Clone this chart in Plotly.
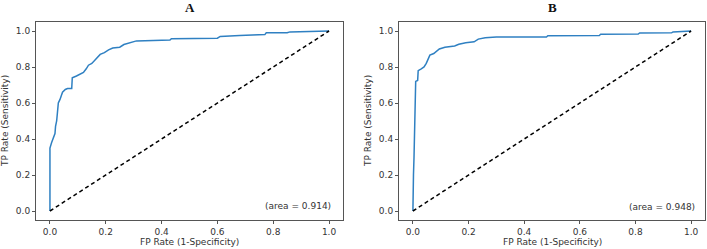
import plotly.graph_objects as go

# ---- data ----
fpr_a = [0, 0, 0.006, 0.012, 0.018, 0.02, 0.024, 0.027, 0.03, 0.036, 0.045, 0.055, 0.063, 0.078,
         0.08, 0.095, 0.11, 0.12, 0.13, 0.138, 0.15, 0.16, 0.17, 0.18, 0.195, 0.21, 0.225, 0.25,
         0.265, 0.29, 0.31, 0.43, 0.435, 0.6, 0.61, 0.68, 0.77, 0.775, 0.85, 0.86, 1.0]
tpr_a = [0, 0.35, 0.38, 0.40, 0.43, 0.47, 0.50, 0.55, 0.60, 0.62, 0.66, 0.675, 0.68, 0.68,
         0.74, 0.75, 0.76, 0.77, 0.79, 0.81, 0.82, 0.835, 0.85, 0.87, 0.88, 0.895, 0.905, 0.91,
         0.925, 0.935, 0.945, 0.95, 0.957, 0.96, 0.97, 0.975, 0.98, 0.99, 0.99, 0.995, 1.0]

fpr_b = [0, 0, 0.002, 0.002, 0.004, 0.006, 0.007, 0.01, 0.017, 0.019, 0.03, 0.04, 0.048, 0.055,
         0.061, 0.075, 0.085, 0.095, 0.115, 0.15, 0.165, 0.19, 0.22, 0.235, 0.26, 0.3, 0.48,
         0.485, 0.67, 0.675, 0.81, 0.815, 0.93, 0.935, 1.0]
tpr_b = [0, 0.15, 0.15, 0.2, 0.3, 0.5, 0.63, 0.72, 0.725, 0.78, 0.79, 0.80, 0.82, 0.845,
         0.866, 0.875, 0.89, 0.90, 0.91, 0.917, 0.926, 0.935, 0.94, 0.955, 0.962, 0.967, 0.967,
         0.974, 0.975, 0.982, 0.983, 0.989, 0.99, 0.995, 1.0]

chance = [0, 1]
titles = ["A", "B"]
area_labels = ["(area = 0.914)", "(area = 0.948)"]
x_title = "FP Rate (1-Specificity)"
y_title = "TP Rate (Sensitivity)"
tick_vals = [0, 0.2, 0.4, 0.6, 0.8, 1.0]
tick_text = ["0.0", "0.2", "0.4", "0.6", "0.8", "1.0"]

W, H = 707, 249
BLUE = "#2f80c2"
FRAME = "#555555"
TXT = "#333333"

fig = go.Figure()
fig.add_trace(go.Scatter(x=fpr_a, y=tpr_a, mode="lines", line=dict(color=BLUE, width=1.5),
                         xaxis="x", yaxis="y", showlegend=False))
fig.add_trace(go.Scatter(x=chance, y=chance, mode="lines",
                         line=dict(color="black", width=1.5, dash="4px,3px"),
                         xaxis="x", yaxis="y", showlegend=False))
fig.add_trace(go.Scatter(x=fpr_b, y=tpr_b, mode="lines", line=dict(color=BLUE, width=1.5),
                         xaxis="x2", yaxis="y2", showlegend=False))
fig.add_trace(go.Scatter(x=chance, y=chance, mode="lines",
                         line=dict(color="black", width=1.5, dash="4px,3px"),
                         xaxis="x2", yaxis="y2", showlegend=False))

def px(x):
    return x / W

def py(y):
    return 1 - y / H

axis_common = dict(
    range=[-0.05, 1.05], tickvals=tick_vals, ticktext=tick_text, ticks="outside",
    ticklen=3, tickwidth=1, tickcolor=FRAME, showline=True, linecolor=FRAME, linewidth=1,
    mirror=True, showgrid=False, zeroline=False, tickfont=dict(size=9, color=TXT),
)
ydom = [py(220), py(22)]
fig.update_layout(
    width=W, height=H, margin=dict(l=0, r=0, t=0, b=0),
    paper_bgcolor="white", plot_bgcolor="white",
    font=dict(family="DejaVu Sans", size=9, color=TXT),
    xaxis=dict(domain=[px(36), px(343)], anchor="y", **axis_common),
    yaxis=dict(domain=ydom, anchor="x", **axis_common),
    xaxis2=dict(domain=[px(399), px(705)], anchor="y2", **axis_common),
    yaxis2=dict(domain=ydom, anchor="x2", **axis_common),
)

annos = []
centers = [(189.5, 8, 5, 333, 206), (552, 8, 368, 697, 207)]
for i, (cx, ty, yx, ax, ay) in enumerate(centers):
    annos.append(dict(text="<b>" + titles[i] + "</b>", x=px(cx), y=py(ty), xref="paper", yref="paper",
                      showarrow=False, font=dict(family="Liberation Serif", size=13, color="#111"),
                      xanchor="center", yanchor="middle"))
    annos.append(dict(text=x_title, x=px(cx), y=py(242), xref="paper", yref="paper",
                      showarrow=False, xanchor="center", yanchor="middle",
                      font=dict(size=9, color=TXT)))
    annos.append(dict(text=y_title, x=px(yx), y=py(121), xref="paper", yref="paper",
                      showarrow=False, textangle=-90, xanchor="center", yanchor="middle",
                      font=dict(size=9, color=TXT)))
    annos.append(dict(text=area_labels[i], x=px(ax), y=py(ay), xref="paper", yref="paper",
                      showarrow=False, xanchor="right", yanchor="middle",
                      font=dict(size=9, color=TXT)))
fig.update_layout(annotations=annos)

fig.write_html("out.html", config={"displayModeBar": False},
               post_script="document.body.style.margin='0px';document.body.style.overflow='hidden';")
